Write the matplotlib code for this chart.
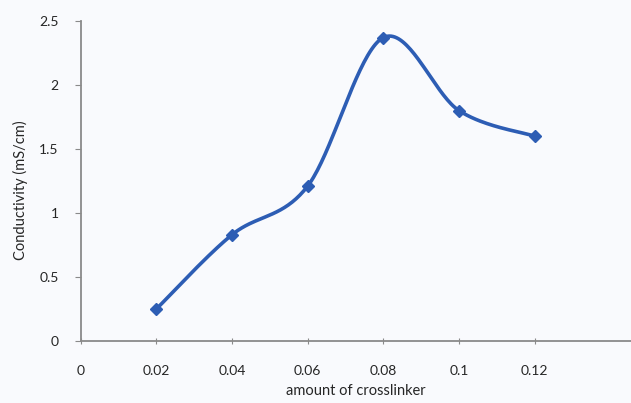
import numpy as np
import matplotlib
matplotlib.use("Agg")
import matplotlib.pyplot as plt

# data
crosslinker = [0.02, 0.04, 0.06, 0.08, 0.10, 0.12]
conductivity = [0.25, 0.83, 1.21, 2.37, 1.80, 1.60]
x_ticks = [0, 0.02, 0.04, 0.06, 0.08, 0.10, 0.12]
x_tick_labels = ["0", "0.02", "0.04", "0.06", "0.08", "0.1", "0.12"]
y_ticks = [0, 0.5, 1, 1.5, 2, 2.5]
y_tick_labels = ["0", "0.5", "1", "1.5", "2", "2.5"]

LINE = "#2d5db4"
BG = "#f9fafd"
TEXT = "#262626"
GRID = "#8a8a8a"

plt.rcParams["font.family"] = ["Lato", "DejaVu Sans"]


def excel_smooth(x, y, xscale, yscale, n=40):
    """Catmull-Rom style smoothing (like Excel's smoothed line) in scaled space."""
    p = np.column_stack([np.asarray(x) / xscale, np.asarray(y) / yscale])
    pts = []
    for i in range(len(p) - 1):
        p0 = p[i - 1] if i > 0 else p[i]
        p1, p2 = p[i], p[i + 1]
        p3 = p[i + 2] if i + 2 < len(p) else p[i + 1]
        c1 = p1 + (p2 - p0) / 6
        c2 = p2 - (p3 - p1) / 6
        t = np.linspace(0, 1, n)[:, None]
        seg = ((1 - t) ** 3) * p1 + 3 * ((1 - t) ** 2) * t * c1 \
            + 3 * (1 - t) * t ** 2 * c2 + t ** 3 * p2
        pts.append(seg if i == 0 else seg[1:])
    pts = np.vstack(pts)
    return pts[:, 0] * xscale, pts[:, 1] * yscale


fig = plt.figure(figsize=(6.31, 4.03), dpi=100, facecolor=BG)
ax = fig.add_axes([0.128, 0.154, 0.872, 0.794], facecolor=BG)

xmax = 0.1455
sx, sy = excel_smooth(crosslinker, conductivity, xmax / 550, 2.5 / 320)
ax.plot(sx, sy, color=LINE, lw=2.6, solid_capstyle="round", zorder=3)
ax.plot(crosslinker, conductivity, ls="none", marker="D", ms=6,
        color=LINE, zorder=4)

ax.set_xlim(0, xmax)
ax.set_ylim(0, 2.5)
ax.set_xticks(x_ticks)
ax.set_xticklabels(x_tick_labels)
ax.set_yticks(y_ticks)
ax.set_yticklabels(y_tick_labels)

for s in ["top", "right"]:
    ax.spines[s].set_visible(False)
for s in ["left", "bottom"]:
    ax.spines[s].set_color(GRID)
    ax.spines[s].set_linewidth(1.3)

ax.tick_params(axis="y", direction="out", length=4, color=GRID,
               labelsize=10, labelcolor=TEXT, pad=12)
ax.tick_params(axis="x", direction="inout", length=5, color=GRID,
               labelsize=10, labelcolor=TEXT, pad=15)

ax.set_xlabel("amount of crosslinker", fontsize=10.5, color=TEXT, labelpad=5)
ax.set_ylabel("Conductivity (mS/cm)", fontsize=10.5, color=TEXT)
ax.yaxis.set_label_coords(-0.095, 0.47)

fig.savefig("out.png", dpi=100, facecolor=BG)
